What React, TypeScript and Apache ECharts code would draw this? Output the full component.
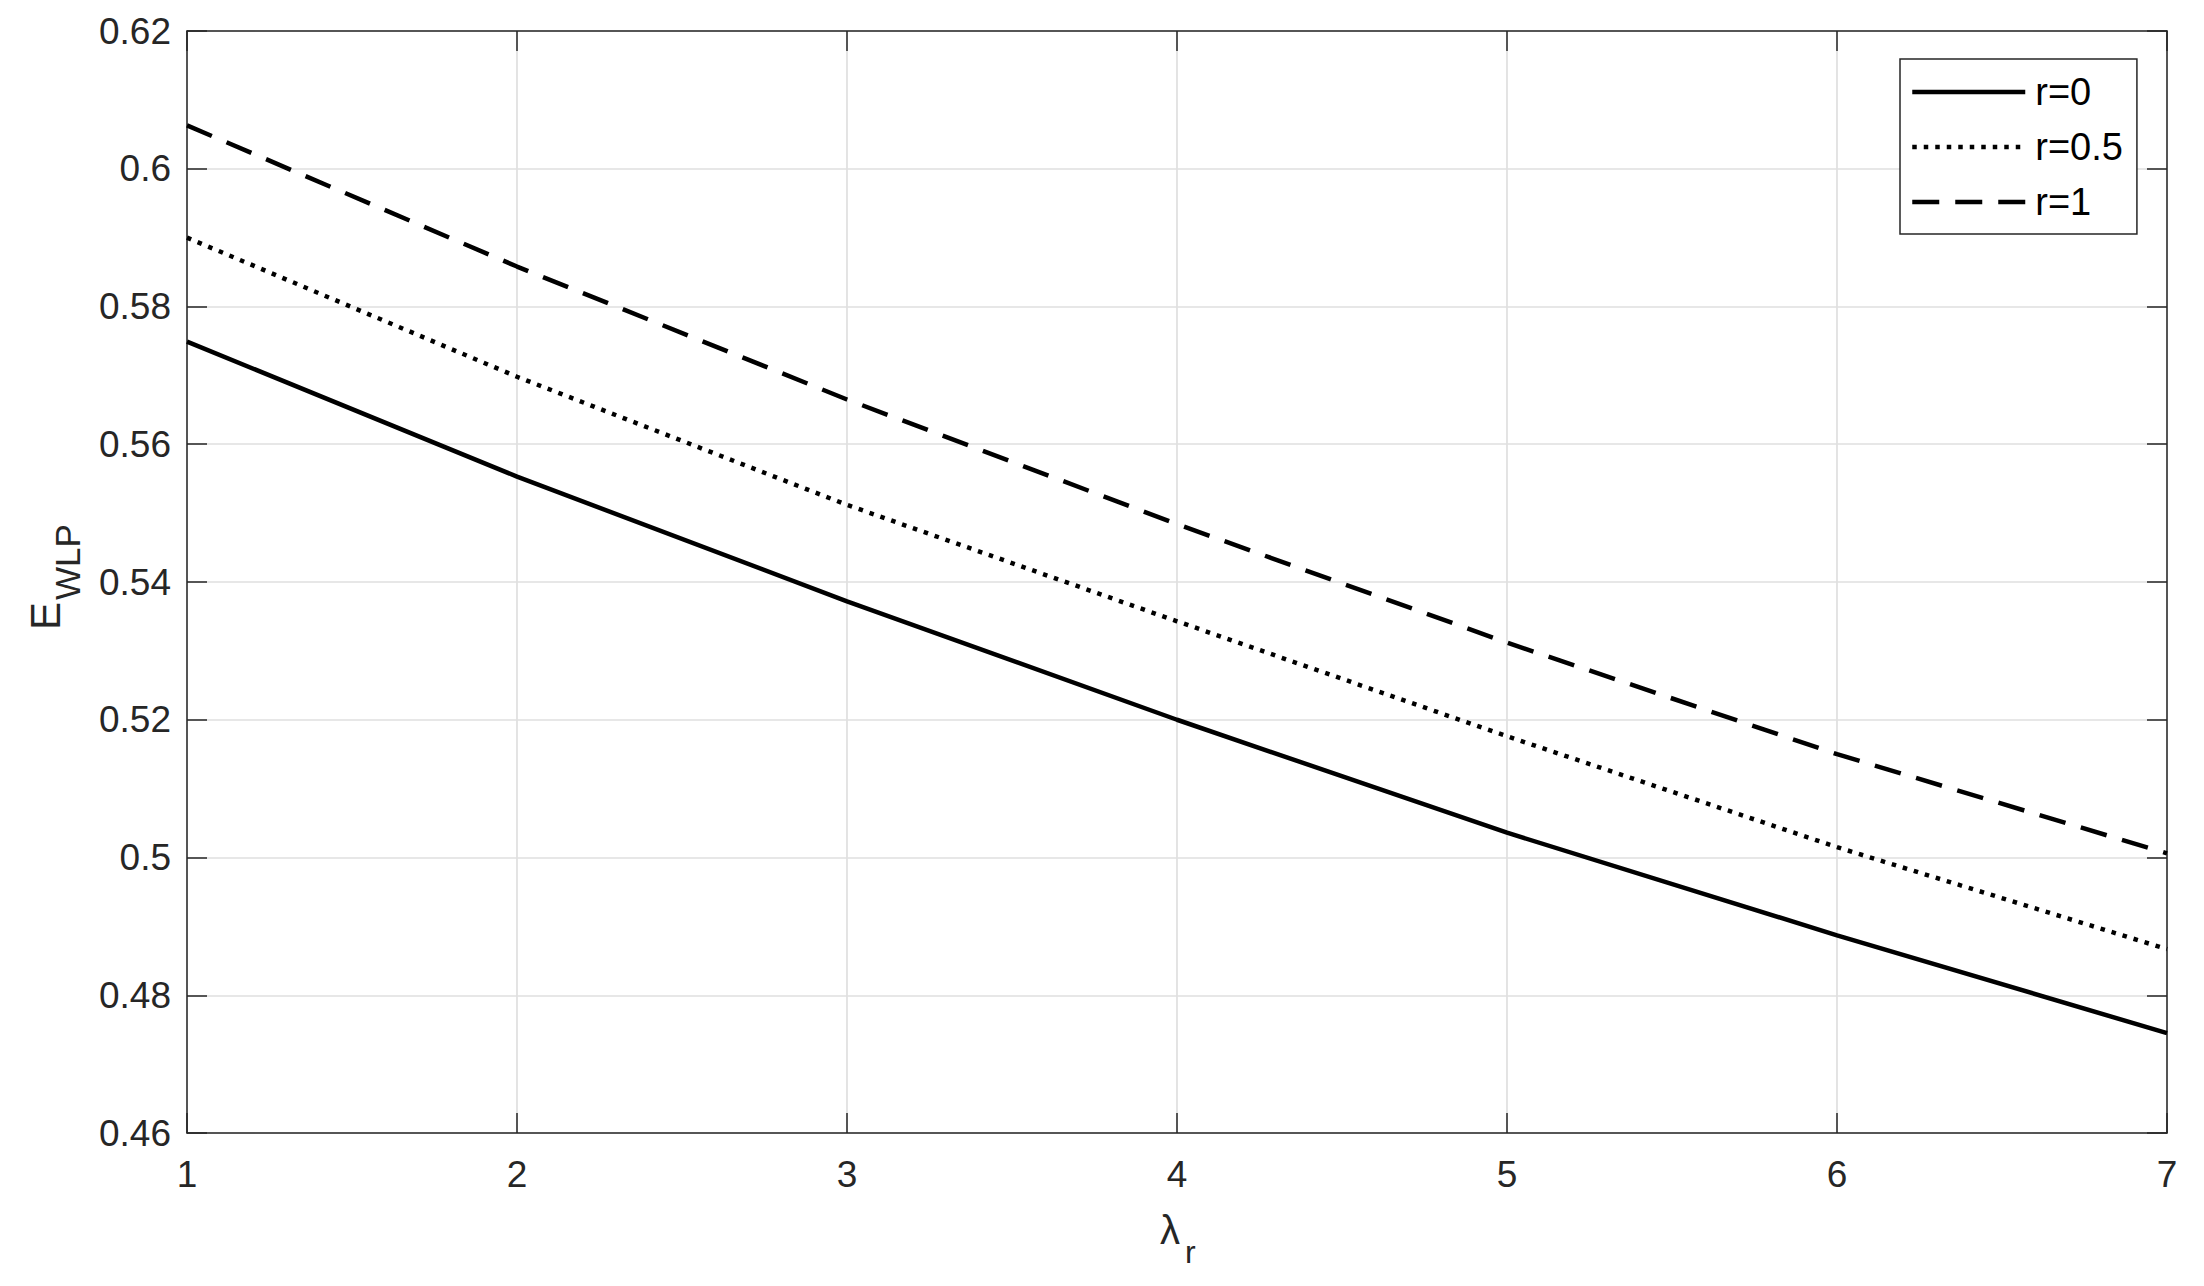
import React, { useEffect, useRef } from "react";
import * as echarts from "echarts";

const xValues = [1, 2, 3, 4, 5, 6, 7];
const seriesNames = ["r=0", "r=0.5", "r=1"];
const r0Values = [0.5749, 0.5553, 0.5372, 0.52, 0.5036, 0.4887, 0.4745];
const r05Values = [0.59, 0.5698, 0.5512, 0.5343, 0.5176, 0.5015, 0.4867];
const r1Values = [0.6063, 0.5858, 0.5665, 0.5484, 0.5312, 0.515, 0.5006];
const yTickMin = 0.46;
const yTickMax = 0.62;
const yTickStep = 0.02;
const xTickMin = 1;
const xTickMax = 7;
const xTickStep = 1;

const W = 2204;
const H = 1286;
const FONT = "'Liberation Sans', Arial, Helvetica, sans-serif";
const AX = "#262626";

export default function App() {
  const ref = useRef<HTMLDivElement>(null);
  useEffect(() => {
    document.body.style.margin = "0";
    if (!ref.current) return;
    const chart = echarts.init(ref.current, undefined, { renderer: "svg", width: W, height: H });
    const pairs = (ys: number[]) => xValues.map((x, i) => [x, ys[i]]);
    const axisCommon = {
      axisLine: { show: true, lineStyle: { color: AX, width: 1.5 } },
      axisTick: { show: true, inside: true, length: 20, lineStyle: { color: AX, width: 1.5 } },
    };
    const option: any = {
      animation: false,
      backgroundColor: "#ffffff",
      grid: { left: 187, right: 37, top: 31, bottom: 153, containLabel: false },
      xAxis: [
        {
          type: "value",
          min: xTickMin,
          max: xTickMax,
          interval: xTickStep,
          position: "bottom",
          ...axisCommon,
          axisLabel: { show: true, color: AX, fontSize: 37, fontFamily: FONT, margin: 23 },
          splitLine: { show: true, lineStyle: { color: "#dfdfdf", width: 1.7 } },
        },
        {
          type: "value",
          min: xTickMin,
          max: xTickMax,
          interval: xTickStep,
          position: "top",
          ...axisCommon,
          axisLabel: { show: false },
          splitLine: { show: false },
        },
      ],
      yAxis: [
        {
          type: "value",
          min: yTickMin,
          max: yTickMax,
          interval: yTickStep,
          position: "left",
          ...axisCommon,
          axisLabel: {
            show: true,
            color: AX,
            fontSize: 37,
            fontFamily: FONT,
            margin: 16,
            formatter: (v: number) => String(parseFloat(v.toFixed(2))),
          },
          splitLine: { show: true, lineStyle: { color: "#dfdfdf", width: 1.7 } },
        },
        {
          type: "value",
          min: yTickMin,
          max: yTickMax,
          interval: yTickStep,
          position: "right",
          ...axisCommon,
          axisLabel: { show: false },
          splitLine: { show: false },
        },
      ],
      legend: {
        show: true,
        orient: "vertical",
        left: 1900,
        top: 59,
        backgroundColor: "#ffffff",
        borderColor: AX,
        borderWidth: 1.5,
        borderRadius: 0,
        padding: [13, 14, 12, 10],
        itemWidth: 113,
        itemHeight: 20,
        itemGap: 15,
        itemStyle: { opacity: 0, borderWidth: 0 },
        lineStyle: { width: 4.5 },
        textStyle: { color: "#000000", fontSize: 38, fontFamily: FONT, lineHeight: 40, padding: [0, 0, 0, 5] },
        data: seriesNames,
      },
      series: [
        {
          name: seriesNames[0],
          type: "line",
          data: pairs(r0Values),
          symbol: "none",
          lineStyle: { color: "#000000", width: 4.5, type: "solid" },
          itemStyle: { color: "#000000" },
        },
        {
          name: seriesNames[1],
          type: "line",
          data: pairs(r05Values),
          symbol: "none",
          lineStyle: { color: "#000000", width: 4.5, type: [4.5, 7] },
          itemStyle: { color: "#000000" },
        },
        {
          name: seriesNames[2],
          type: "line",
          data: pairs(r1Values),
          symbol: "none",
          lineStyle: { color: "#000000", width: 4.5, type: [27, 16] },
          itemStyle: { color: "#000000" },
        },
      ],
      graphic: [
        {
          type: "text",
          x: 45,
          y: 630,
          rotation: Math.PI / 2,
          style: { text: "E", fontSize: 42, fontFamily: FONT, fill: AX, align: "left", verticalAlign: "middle" },
        },
        {
          type: "text",
          x: 67,
          y: 600,
          rotation: Math.PI / 2,
          style: { text: "WLP", fontSize: 35, fontFamily: FONT, fill: AX, align: "left", verticalAlign: "middle" },
        },
        {
          type: "text",
          x: 1160,
          y: 1230,
          style: { text: "λ", fontSize: 40, fontFamily: FONT, fill: AX, align: "left", verticalAlign: "middle" },
        },
        {
          type: "text",
          x: 1185,
          y: 1252,
          style: { text: "r", fontSize: 32, fontFamily: FONT, fill: AX, align: "left", verticalAlign: "middle" },
        },
      ],
    };
    chart.setOption(option);
    return () => chart.dispose();
  }, []);
  return (
    <div
      ref={ref}
      style={{ position: "absolute", left: 0, top: 0, width: W, height: H, background: "#fff" }}
    />
  );
}
